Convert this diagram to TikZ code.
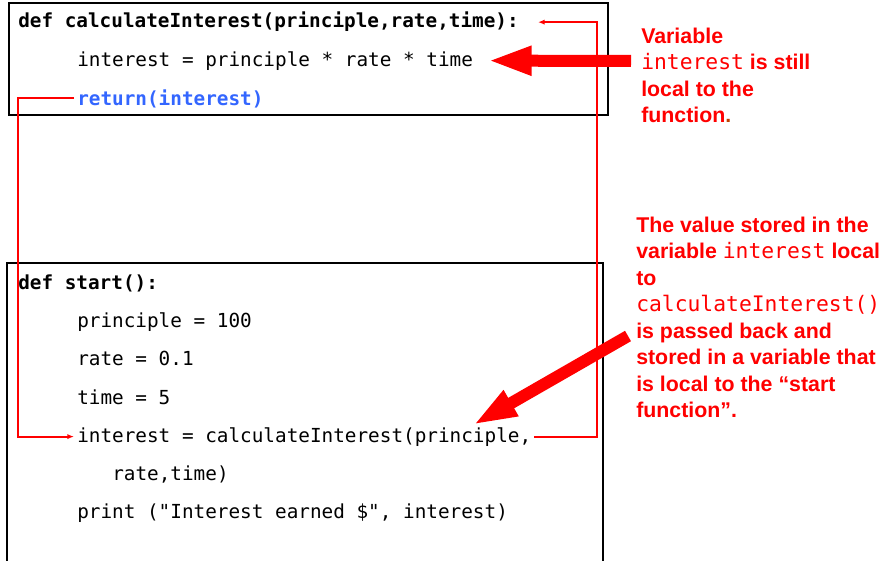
\documentclass[tikz,border=0pt]{standalone}
\usepackage{fontspec}
\setmainfont{Liberation Sans}
\setmonofont{DejaVu Sans Mono}
\usetikzlibrary{arrows.meta}
\definecolor{retblue}{RGB}{51,102,255}
\definecolor{dotbrown}{RGB}{192,64,0}

\begin{document}
\begin{tikzpicture}[x=0.75pt,y=-0.75pt]
  \def\ind{74}

\tikzstyle{code}=[anchor=base west,inner sep=2.25pt,font=\fontsize{14.5}{17}\selectfont\ttfamily]
\tikzstyle{note}=[anchor=north west,inner sep=0pt,align=left,text=red,font=\fontsize{16}{19.9}\selectfont\bfseries]
\tikzstyle{frame}=[line width=2pt]
\tikzstyle{wire}=[red,line width=1.6pt,-{Latex[length=5pt,width=4pt]}]
\tikzstyle{bigarrow}=[red,line width=9pt,-{Triangle[length=33pt,width=20pt]}]

\useasboundingbox (0,0) rectangle (884,560);

% calculateInterest
\draw[frame] (9,3) rectangle (608,115);
\node[code] (f1) at (15,28) {\textbf{def calculateInterest(principle,rate,time):}};
\node[code] (f2) at (\ind,66) {interest = principle * rate * time};
\node[code,text=retblue] (f3) at (\ind,105) {\textbf{return(interest)}};

% start
\draw[frame] (7,580) |- (603,263) -- (603,580);
\node[code] (s0) at (15,289) {\textbf{def start():}};
\node[code] (s1) at (\ind,327) {principle = 100};
\node[code] (s2) at (\ind,365) {rate = 0.1};
\node[code] (s3) at (\ind,404) {time = 5};
\node[code] (s4) at (\ind,442) {interest = calculateInterest(principle,};
\node[code] (s5) at (109,480) {rate,time)};
\node[code] (s6) at (\ind,518) {print ("Interest earned \$", interest)};

% call and return
\coordinate (lft) at (18,0);
\coordinate (rgt) at (597,0);
\draw[wire] (f3.west) -- (f3.west -| lft) |- (s4.west);
\draw[wire] (s4.east) -| (rgt |- f1.east) -- ([xshift=12pt]f1.east);

% notes
\node[note] (n1) at (641,27.4) {Variable\\\texttt{\mdseries interest} is still\\local to the\\function{\color{dotbrown}.}};
\node[note] (n2) at (636,216.4) {The value stored in the\\variable \texttt{\mdseries interest} local\\to\\\texttt{\mdseries calculateInterest()}\\is passed back and\\stored in a variable that\\is local to the “start\\function”.};

\coordinate (n1a) at (631,61);
\draw[bigarrow] (n1a) -- ([xshift=8.5pt]f2.east);
\coordinate (n2a) at (628,336);
\coordinate (n2b) at (473,425);
\draw[bigarrow] (n2a) -- (n2b);
\end{tikzpicture}
\end{document}
